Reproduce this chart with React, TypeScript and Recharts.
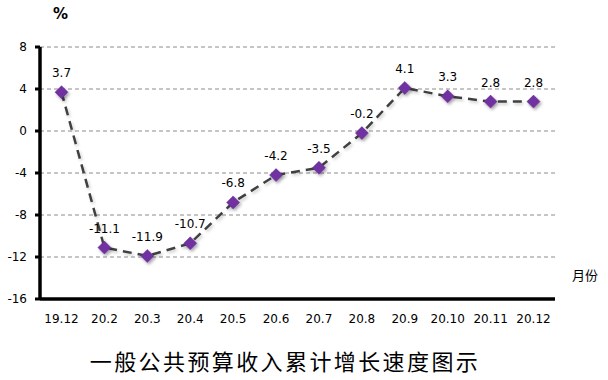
import React from 'react';
import {
  CartesianGrid,
  LabelList,
  Line,
  LineChart,
  XAxis,
  YAxis,
} from 'recharts';

const months = ['19.12', '20.2', '20.3', '20.4', '20.5', '20.6', '20.7', '20.8', '20.9', '20.10', '20.11', '20.12'];
const growth = [3.7, -11.1, -11.9, -10.7, -6.8, -4.2, -3.5, -0.2, 4.1, 3.3, 2.8, 2.8];
const yTicks = [-16, -12, -8, -4, 0, 4, 8];

const chartData = months.map((month, i) => ({ month, value: growth[i] }));

const FONT = '"DejaVu Sans", Verdana, sans-serif';
const CJK = '"Noto Sans CJK SC", sans-serif';

const Diamond = (props: any) => {
  const { cx, cy } = props;
  if (cx == null || cy == null) return null;
  const r = 6.5;
  return (
    <path
      d={`M${cx},${cy - r} L${cx + r},${cy} L${cx},${cy + r} L${cx - r},${cy} Z`}
      fill="#7030A0"
      stroke="#6a2c98"
      strokeWidth={0.5}
      filter="url(#dotShadow)"
    />
  );
};

export default function App() {
  return (
    <div style={{ position: 'fixed', left: 0, top: 0, width: 608, height: 380, background: '#fff' }}>
      <LineChart
        width={608}
        height={380}
        data={chartData}
        margin={{ top: 47, right: 53, left: 0, bottom: 51 }}
      >
        <defs>
          <filter id="dotShadow" x="-50%" y="-50%" width="200%" height="200%">
            <feDropShadow dx="1.5" dy="2" stdDeviation="1.5" floodColor="#000" floodOpacity="0.35" />
          </filter>
          <filter id="lineShadow" x="-10%" y="-10%" width="120%" height="120%">
            <feDropShadow dx="1.5" dy="2" stdDeviation="1.5" floodColor="#000" floodOpacity="0.2" />
          </filter>
        </defs>
        <CartesianGrid vertical={false} stroke="#8c8c8c" strokeDasharray="4 3" />
        <XAxis
          dataKey="month"
          height={30}
          padding={{ left: 21.5, right: 21.5 }}
          tickSize={0}
          tickMargin={15}
          tickLine={false}
          axisLine={{ stroke: '#000', strokeWidth: 3.5 }}
          tick={{ fill: '#000', fontSize: 12, fontFamily: FONT }}
          interval={0}
        />
        <YAxis
          width={40}
          domain={[-16, 8]}
          ticks={yTicks}
          tickSize={5}
          tickMargin={8}
          tickLine={{ stroke: '#000', strokeWidth: 3 }}
          axisLine={{ stroke: '#000', strokeWidth: 3.5 }}
          tick={{ fill: '#000', fontSize: 12, fontFamily: FONT }}
        />
        <Line
          type="linear"
          dataKey="value"
          stroke="#404040"
          strokeWidth={2.5}
          strokeDasharray="9 6"
          dot={<Diamond />}
          activeDot={false}
          filter="url(#lineShadow)"
          isAnimationActive={false}
        >
          <LabelList
            dataKey="value"
            position="top"
            offset={15}
            style={{ fill: '#000', fontSize: 12, fontFamily: FONT }}
          />
        </Line>
      </LineChart>
      <div style={{ position: 'absolute', left: 53, top: 5, fontSize: 15, fontWeight: 'bold', fontFamily: FONT }}>%</div>
      <div style={{ position: 'absolute', left: 572, top: 265, fontSize: 13, fontFamily: CJK, color: '#000' }}>月份</div>
      <div
        style={{
          position: 'absolute',
          left: 0,
          width: 570,
          top: 344,
          textAlign: 'center',
          fontSize: 22,
          letterSpacing: 2.4,
          fontFamily: CJK,
          color: '#000',
        }}
      >
        一般公共预算收入累计增长速度图示
      </div>
    </div>
  );
}
